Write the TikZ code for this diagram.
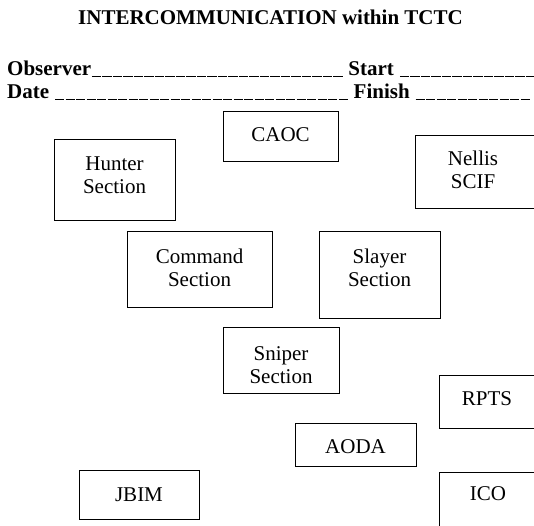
\documentclass[tikz,border=0pt]{standalone}
\usepackage{fontspec}
\setmainfont{Liberation Serif}
\newcommand\oneblank{\kern0.6pt\rule[-2.4pt]{9.3pt}{1.1pt}\kern0.6pt}
\newcommand\blanks[1]{\foreach \i in {1,...,#1}{\oneblank}}
\tikzset{
  frame/.style={draw, line width=1.4pt, inner sep=0pt, anchor=north west},
  lbl/.style={inner sep=0pt, anchor=base, font=\fontsize{21}{23}\selectfont},
  head/.style={inner sep=0pt, anchor=base west, font=\fontsize{21}{23}\selectfont\bfseries},
}
\begin{document}
\begin{tikzpicture}[x=1pt,y=-1pt]
\useasboundingbox (0,0) rectangle (534,525);
\clip (0,0) rectangle (534,525);
% header
\node[lbl, font=\fontsize{21}{23}\selectfont\bfseries] (title) at (270.5,24) {INTERCOMMUNICATION within TCTC};
\node[head] (obs) at (7,75) {Observer\blanks{24} Start \blanks{13}};
\node[head] (date) at (7,98) {Date \blanks{28} Finish \blanks{11}};
% boxes
\node[frame, minimum width=115pt, minimum height=50pt] (caoc) at (223,111) {};
\node[lbl] (caocT) at (280.5,141) {CAOC};
\node[frame, minimum width=121pt, minimum height=81pt] (hunter) at (54,139) {};
\node[lbl] (hunterT) at (114.5,170) {\begin{tabular}[t]{@{}c@{}}Hunter\\Section\end{tabular}};
\node[frame, minimum width=125pt, minimum height=73pt] (nellis) at (415,135) {};
\node[lbl] (nellisT) at (473,165) {\begin{tabular}[t]{@{}c@{}}Nellis\\SCIF\end{tabular}};
\node[frame, minimum width=145pt, minimum height=76pt] (command) at (127,231) {};
\node[lbl] (commandT) at (199.5,263) {\begin{tabular}[t]{@{}c@{}}Command\\Section\end{tabular}};
\node[frame, minimum width=121pt, minimum height=87pt] (slayer) at (319,231) {};
\node[lbl] (slayerT) at (379.5,263) {\begin{tabular}[t]{@{}c@{}}Slayer\\Section\end{tabular}};
\node[frame, minimum width=116pt, minimum height=66pt] (sniper) at (223,327) {};
\node[lbl] (sniperT) at (281,360) {\begin{tabular}[t]{@{}c@{}}Sniper\\Section\end{tabular}};
\node[frame, minimum width=101pt, minimum height=53pt] (rpts) at (439,375) {};
\node[lbl] (rptsT) at (487,405) {RPTS};
\node[frame, minimum width=121pt, minimum height=43pt] (aoda) at (295,423) {};
\node[lbl] (aodaT) at (355.5,453) {AODA};
\node[frame, minimum width=101pt, minimum height=60pt] (ico) at (439,472) {};
\node[lbl] (icoT) at (488,500) {ICO};
\node[frame, minimum width=120pt, minimum height=49pt] (jbim) at (79,470) {};
\node[lbl] (jbimT) at (139,501) {JBIM};
\end{tikzpicture}
\end{document}
